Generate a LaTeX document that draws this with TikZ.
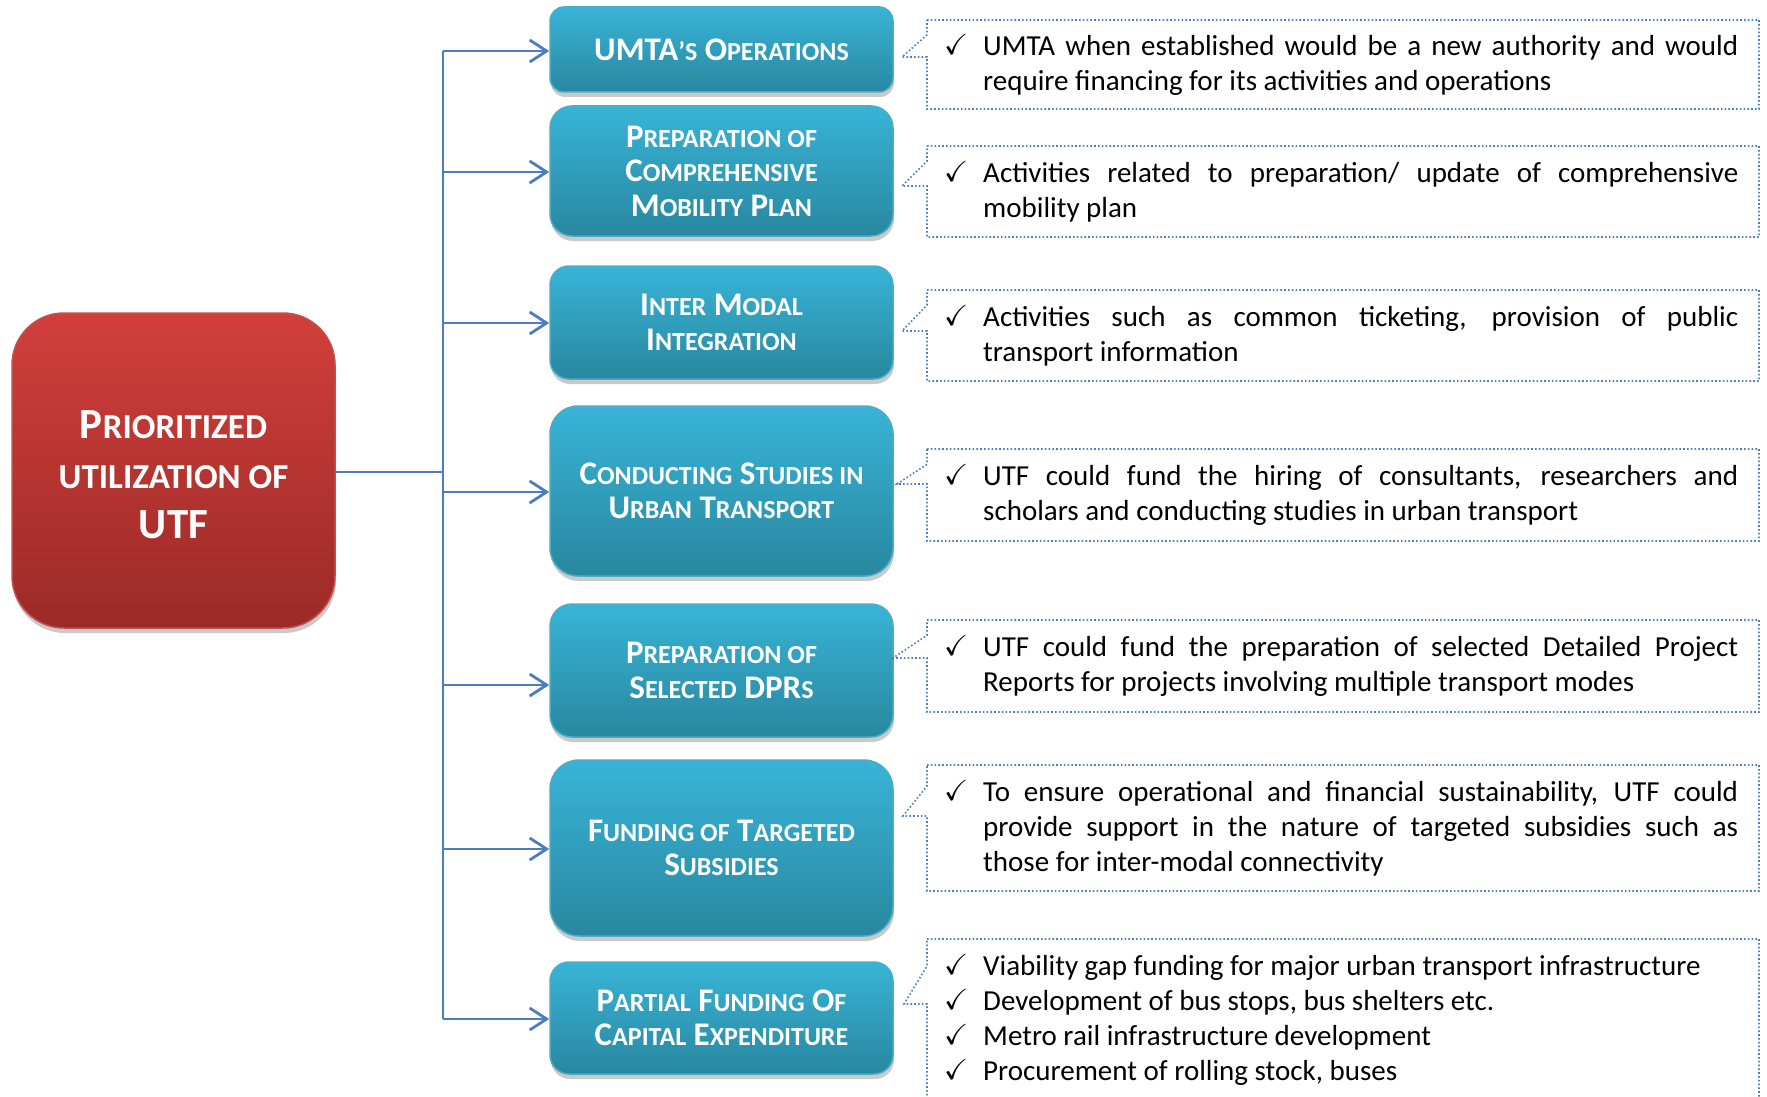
\documentclass[tikz,border=0pt]{standalone}
\usepackage{fontspec}
\usepackage{amssymb}
\setmainfont{Carlito}
\usetikzlibrary{arrows.meta,shadows,positioning}

\definecolor{linkblue}{RGB}{74,126,193}
\definecolor{boxtop}{RGB}{56,180,214}
\definecolor{boxbot}{RGB}{41,135,160}
\definecolor{boxline}{RGB}{75,172,198}
\definecolor{redtop}{RGB}{209,63,59}
\definecolor{redbot}{RGB}{155,42,39}
\definecolor{redline}{RGB}{192,80,77}

% fake small caps, check mark and justified lines
\newcommand\smc[1]{{\fontsize{26}{34.5}\selectfont #1}}
\newcommand\rsm[1]{{\fontsize{35}{50}\selectfont #1}}
\newcommand\ck{\makebox[39pt][l]{\raisebox{1pt}{\fontsize{29}{29}\selectfont$\checkmark$}}}
\newcommand\indl{\hspace*{39pt}}
\newcommand\jl[1]{\makebox[755pt][s]{#1}}

\tikzset{
  item/.style={rounded corners=#1, draw=boxline, line width=1.5pt, top color=boxtop, bottom color=boxbot,
    text=white, minimum width=343pt, align=center, inner sep=0pt,
    font=\fontsize{33}{34.5}\selectfont\bfseries,
    drop shadow={shadow xshift=1pt, shadow yshift=-5pt, opacity=.35, fill=black!60}},
  hub/.style={rounded corners=52pt, draw=redline, line width=1.5pt, top color=redtop, bottom color=redbot,
    text=white, minimum width=323pt, minimum height=315pt, align=center, inner sep=0pt,
    font=\fontsize{43}{50}\selectfont\bfseries,
    drop shadow={shadow xshift=1pt, shadow yshift=-5pt, opacity=.35, fill=black!60}},
  link/.style={draw=linkblue, line width=2.8pt},
  arrow/.style={-{Straight Barb[length=17pt,width=22pt]}},
  note/.style={draw=linkblue, line width=1.6pt, dash pattern=on 1.6pt off 2.2pt},
  notetext/.style={anchor=west, inner sep=0pt, align=left, font=\fontsize{29}{35}\selectfont}
}

\begin{document}
\begin{tikzpicture}[x=1pt,y=-1pt]
  \useasboundingbox (0,0) rectangle (1767,1097);

  % red box
  \node[hub] (utf) at (173.5,470.5) {\rule{0pt}{36pt}P\rsm{RIORITIZED}\\\rsm{UTILIZATION OF}\\UTF};

  % blue boxes
  \node[item=14pt, minimum height=85pt] (ops) at (721.5,49.5) {UMTA\smc{’S} O\smc{PERATIONS}};
  \node[item=22pt, minimum height=130pt] (cmp) at (721.5,171) {P\smc{REPARATION OF}\\C\smc{OMPREHENSIVE}\\M\smc{OBILITY} P\smc{LAN}};
  \node[item=19pt, minimum height=113pt] (imi) at (721.5,322.5) {I\smc{NTER} M\smc{ODAL}\\I\smc{NTEGRATION}};
  \node[item=28pt, minimum height=170pt] (study) at (721.5,491) {C\smc{ONDUCTING} S\smc{TUDIES IN}\\U\smc{RBAN} T\smc{RANSPORT}};
  \node[item=22pt, minimum height=133pt] (dpr) at (721.5,670.5) {P\smc{REPARATION OF}\\S\smc{ELECTED} DPR\smc{S}};
  \node[item=29pt, minimum height=176pt] (subs) at (721.5,848) {F\smc{UNDING OF} T\smc{ARGETED}\\S\smc{UBSIDIES}};
  \node[item=19pt, minimum height=112pt] (capex) at (721.5,1018) {P\smc{ARTIAL} F\smc{UNDING} O\smc{F}\\C\smc{APITAL} E\smc{XPENDITURE}};

  % trunk and branches
  \coordinate (hub) at (443,472);
  \coordinate (j1) at (443,51);
  \coordinate (j2) at (443,172);
  \coordinate (j3) at (443,323);
  \coordinate (j4) at (443,492);
  \coordinate (j5) at (443,685);
  \coordinate (j6) at (443,849);
  \coordinate (j7) at (443,1019);
  \draw[link] (utf.east |- hub) -- (hub);
  \draw[link] (j1) -- (j7);
  \foreach \j/\b in {j1/ops,j2/cmp,j3/imi,j4/study,j5/dpr,j6/subs,j7/capex}
    \draw[link,arrow] (\j) -- (\j -| \b.west);

  % callouts
  \foreach \t/\b/\x/\y in {20/109/902/57, 146/237/902/186, 290/381/902/331, 449/541/897/484,
      620/712/893/658, 765/891/903/816, 939/1101/904/1004}
    \draw[note] (927,\t) -- (1759,\t) -- (1759,\b) -- (927,\b) -- (927,\y) -- (\x,\y)
      -- (927,{\t+(\b-\t)/6}) -- cycle;

  \node[notetext] (n1) at (944,64.5) {\ck\jl{UMTA when established would be a new authority and would}\\
    \indl require financing for its activities and operations};
  \node[notetext] (n2) at (944,191.5) {\ck\jl{Activities related to preparation/ update of comprehensive}\\
    \indl mobility plan};
  \node[notetext] (n3) at (944,335.5) {\ck\jl{Activities such as common ticketing, provision of public}\\
    \indl transport information};
  \node[notetext] (n4) at (944,495) {\ck\jl{UTF could fund the hiring of consultants, researchers and}\\
    \indl scholars and conducting studies in urban transport};
  \node[notetext] (n5) at (944,666) {\ck\jl{UTF could fund the preparation of selected Detailed Project}\\
    \indl Reports for projects involving multiple transport modes};
  \node[notetext] (n6) at (944,828) {\ck\jl{To ensure operational and financial sustainability, UTF could}\\
    \indl\jl{provide support in the nature of targeted subsidies such as}\\
    \indl those for inter-modal connectivity};
  \node[notetext] (n7) at (944,1020) {\ck Viability gap funding for major urban transport infrastructure\\
    \ck Development of bus stops, bus shelters etc.\\
    \ck Metro rail infrastructure development\\
    \ck Procurement of rolling stock, buses};
\end{tikzpicture}
\end{document}
